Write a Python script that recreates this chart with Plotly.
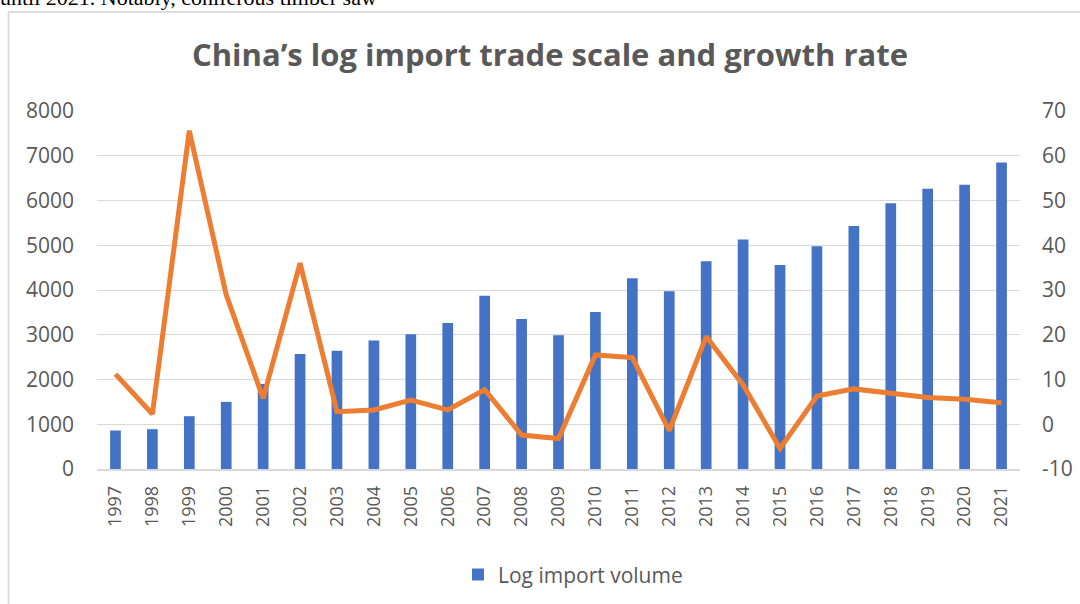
import plotly.graph_objects as go

years = [str(y) for y in range(1997, 2022)]
import_volume = [860, 890, 1180, 1500, 1900, 2570, 2640, 2870, 3010, 3260, 3870, 3350, 2990,
                 3510, 4260, 3970, 4640, 5130, 4560, 4980, 5430, 5940, 6260, 6350, 6850]
growth_rate = [11.2, 2.3, 65.6, 28.9, 5.8, 36.0, 2.8, 3.2, 5.4, 3.2, 7.7, -2.4, -3.2,
               15.5, 14.9, -1.4, 19.6, 8.8, -5.4, 6.3, 7.9, 6.9, 6.0, 5.6, 4.8]
right_ticks = [-10, 0, 10, 20, 30, 40, 50, 60, 70]

title_text = "China’s log import trade scale and growth rate"
bar_name = "Log import volume"
line_name = "Growth rate"
top_text = "until 2021. Notably, coniferous timber saw"

W, H = 1080, 604
L, R, T, B = 97, 1020, 110.7, 469
pw, ph = R - L, B - T

def px_x(x):
    return (x - L) / pw

def px_y(y):
    return (B - y) / ph

grey = "#595959"
font_fam = "Open Sans, Lato, sans-serif"

fig = go.Figure()
fig.add_trace(go.Bar(x=years, y=import_volume, name=bar_name, marker_color="#4472C4",
                     marker_line_width=0, yaxis="y"))
fig.add_trace(go.Scatter(x=years, y=growth_rate, name=line_name, mode="lines",
                         line=dict(color="#ED7D31", width=5), yaxis="y2", showlegend=False))

fig.update_layout(
    width=W, height=H,
    margin=dict(l=L, r=W - R, t=T, b=H - B, autoexpand=False),
    paper_bgcolor="white", plot_bgcolor="white",
    bargap=0.71,
    title=dict(text=f"<b>{title_text}</b>", xref="container", yref="container",
               x=550 / W, y=1 - 55 / H, xanchor="center", yanchor="middle",
               font=dict(family=font_fam, size=31, color=grey)),
    xaxis=dict(type="category", tickangle=-90, tickfont=dict(family=font_fam, size=18, color=grey),
               showgrid=False, showline=True, linecolor="#D9D9D9", linewidth=1.5,
               ticks="", ticklabelstandoff=8),
    yaxis=dict(range=[0, 8000], dtick=1000, showgrid=True, gridcolor="#D9D9D9", gridwidth=1.4,
               zeroline=False, tickfont=dict(family=font_fam, size=21, color=grey),
               ticks="", ticklabelstandoff=22),
    yaxis2=dict(range=[-10, 70], tickvals=right_ticks, ticktext=[str(v) for v in right_ticks],
                overlaying="y", side="right", showgrid=False,
                zeroline=False, tickfont=dict(family=font_fam, size=21, color=grey),
                ticks="", ticklabelstandoff=21),
    legend=dict(orientation="h", x=px_x(573), y=px_y(575), xanchor="center", yanchor="middle",
                font=dict(family=font_fam, size=21, color=grey), bgcolor="rgba(0,0,0,0)"),
    showlegend=True,
)

# document frame (chart border from the screenshot)
fig.add_shape(type="line", xref="paper", yref="paper", x0=px_x(8.5), x1=px_x(8.5),
              y0=px_y(11.5), y1=px_y(620), line=dict(color="#D9D9D9", width=1.8))
fig.add_shape(type="line", xref="paper", yref="paper", x0=px_x(8.5), x1=px_x(1100),
              y0=px_y(11.5), y1=px_y(11.5), line=dict(color="#D9D9D9", width=1.8))

# cut-off document text above the chart
fig.add_annotation(text=top_text, xref="paper", yref="paper", x=px_x(-2), y=px_y(12),
                   xanchor="left", yanchor="bottom", showarrow=False,
                   font=dict(family="Liberation Serif, serif", size=22, color="#000000"))

fig.write_html("out.html", config={"displayModeBar": False},
               post_script="document.body.style.margin='0';document.body.style.overflow='hidden';")
